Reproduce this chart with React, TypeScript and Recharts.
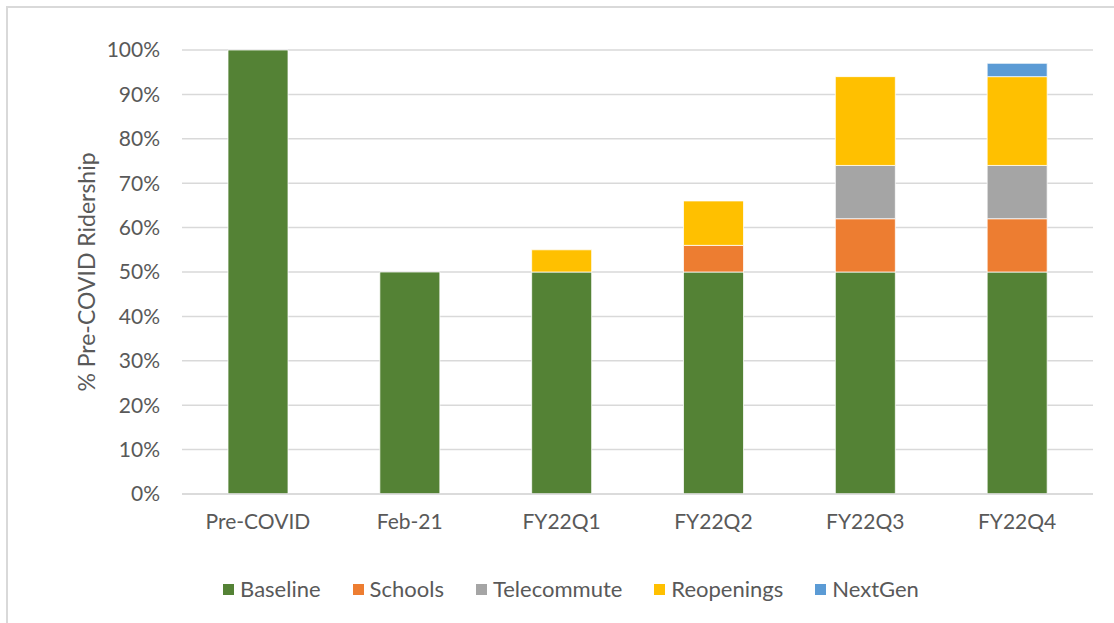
import { BarChart, Bar, XAxis, YAxis, CartesianGrid, Legend, Label } from 'recharts';

const categories = ['Pre-COVID', 'Feb-21', 'FY22Q1', 'FY22Q2', 'FY22Q3', 'FY22Q4'];
const baseline = [100, 50, 50, 50, 50, 50];
const schools = [0, 0, 0, 6, 12, 12];
const telecommute = [0, 0, 0, 0, 12, 12];
const reopenings = [0, 0, 5, 10, 20, 20];
const nextGen = [0, 0, 0, 0, 0, 3];
const yTicks = [0, 10, 20, 30, 40, 50, 60, 70, 80, 90, 100];

const series = [
  { key: 'Baseline', values: baseline, color: '#548235' },
  { key: 'Schools', values: schools, color: '#ED7D31' },
  { key: 'Telecommute', values: telecommute, color: '#A5A5A5' },
  { key: 'Reopenings', values: reopenings, color: '#FFC000' },
  { key: 'NextGen', values: nextGen, color: '#5B9BD5' },
];

const data = categories.map((name, i) => {
  const row: Record<string, string | number> = { name };
  series.forEach((s) => {
    row[s.key] = s.values[i];
  });
  return row;
});

const font = 'Lato, "Open Sans", sans-serif';
const textColor = '#595959';

function LegendContent() {
  return (
    <div style={{ display: 'flex', justifyContent: 'center', gap: 32, fontFamily: font, fontSize: 22, color: textColor, height: 24, lineHeight: '24px' }}>
      {series.map((s) => (
        <div key={s.key} style={{ display: 'flex', alignItems: 'center' }}>
          <span style={{ width: 11, height: 11, background: s.color, marginRight: 6, display: 'inline-block' }} />
          <span>{s.key}</span>
        </div>
      ))}
    </div>
  );
}

export default function App() {
  return (
    <div style={{ position: 'fixed', left: 0, top: 0, width: 1114, height: 623, overflow: 'hidden', background: '#fff' }}>
      <div
        style={{
          position: 'absolute',
          left: 6,
          top: 6,
          width: 1200,
          height: 700,
          borderLeft: '2px solid #d9d9d9',
          borderTop: '2px solid #d9d9d9',
        }}
      />
      <div style={{ position: 'absolute', left: 0, top: 0 }}>
        <BarChart width={1114} height={623} data={data} margin={{ top: 50, right: 21, left: 0, bottom: 65 }}>
          <CartesianGrid vertical={false} stroke="#d9d9d9" strokeWidth={1.5} />
          <XAxis
            dataKey="name"
            axisLine={{ stroke: '#d9d9d9', strokeWidth: 1.5 }}
            tickLine={false}
            tickMargin={14}
            tick={{ fill: textColor, fontSize: 21, fontFamily: font }}
            height={40}
          />
          <YAxis
            width={182}
            domain={[0, 100]}
            ticks={yTicks}
            interval={0}
            axisLine={false}
            tickLine={false}
            tickMargin={16}
            tickFormatter={(v) => `${v}%`}
            tick={{ fill: textColor, fontSize: 21, fontFamily: font }}
          >
            <Label
              content={() => (
                <text
                  x={86}
                  y={272}
                  transform="rotate(-90 86 272)"
                  textAnchor="middle"
                  dominantBaseline="central"
                  fill={textColor}
                  fontSize={23}
                  fontFamily={font}
                >
                  % Pre-COVID Ridership
                </text>
              )}
            />
          </YAxis>
          <Legend
            content={<LegendContent />}
            wrapperStyle={{ position: 'absolute', top: 577, left: 14, width: 1114 }}
          />
          {series.map((s) => (
            <Bar
              key={s.key}
              dataKey={s.key}
              stackId="a"
              fill={s.color}
              stroke="#fff"
              strokeWidth={0.75}
              barSize={60}
              isAnimationActive={false}
            />
          ))}
        </BarChart>
      </div>
    </div>
  );
}
